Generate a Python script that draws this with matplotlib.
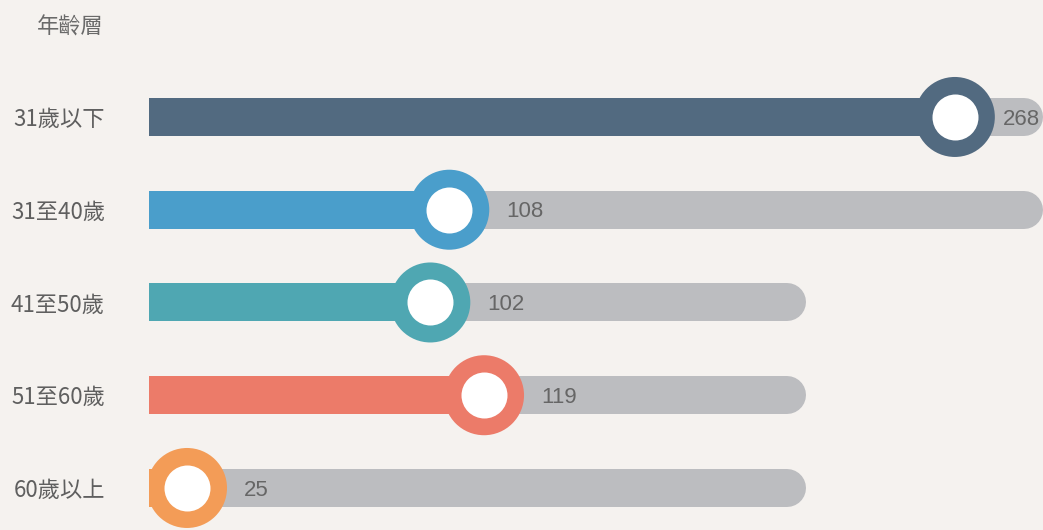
import matplotlib
matplotlib.use("Agg")
import matplotlib.pyplot as plt

categories = ["31歲以下", "31至40歲", "41至50歲", "51至60歲", "60歲以上"]
values = [268, 108, 102, 119, 25]
track_max = [290, 290, 215, 215, 215]
colors = ["#526a80", "#4a9ecb", "#4fa7b2", "#ec7b69", "#f39c57"]
title = "年齡層"

plt.rcParams['font.family'] = ['Noto Sans CJK TC', 'DejaVu Sans']

W, H = 1043, 530
fig = plt.figure(figsize=(W / 100, H / 100), dpi=100)
fig.patch.set_facecolor("#f5f2ef")

ax = fig.add_axes([149 / W, 0, (W - 149) / W, 1])
ax.set_facecolor("none")
for s in ax.spines.values():
    s.set_visible(False)

ypos = list(range(len(categories)))
bar_px = 38
lw_pt = bar_px * 72 / 100

for y, v, t, c in zip(ypos, values, track_max, colors):
    ax.plot([0, t], [y, y], color="#bcbdc0", lw=lw_pt, solid_capstyle="round", zorder=1)
    ax.barh(y, v, left=0, height=0.41, color=c, zorder=2)
ax.scatter(values, ypos, s=(80 * 0.72) ** 2, c=colors, zorder=3, linewidths=0)
ax.scatter(values, ypos, s=(46 * 0.72) ** 2, c="white", zorder=4, linewidths=0)

ax.set_xlim(12.97, 295.9)
ax.set_ylim(4.453, -1.261)
ax.set_xticks([])
ax.set_yticks(ypos)
ax.set_yticklabels(categories, fontsize=16, color="#5f5f5f", fontweight="light")
ax.tick_params(axis="y", length=0, pad=31.7)

labels = []
for y, v in zip(ypos, values):
    a = ax.annotate(str(v), (v, y), xytext=(41, -1.5), textcoords="offset points",
                    ha="left", va="center", fontsize=16, color="#666666", zorder=5,
                    family=['Liberation Sans', 'DejaVu Sans'], annotation_clip=False)
    labels.append(a)

fig.text(104 / W, 1 - 27 / H, title, ha="right", va="center", fontsize=16,
         color="#6a6a6a", fontweight="light")

# keep value labels inside the figure
fig.canvas.draw()
r = fig.canvas.get_renderer()
for a in labels:
    bb = a.get_window_extent(r)
    if bb.x1 > W - 3:
        a.set_position((41 - (bb.x1 - (W - 3)) * 0.72, -1.5))

fig.savefig("out.png", dpi=100, facecolor=fig.get_facecolor())
